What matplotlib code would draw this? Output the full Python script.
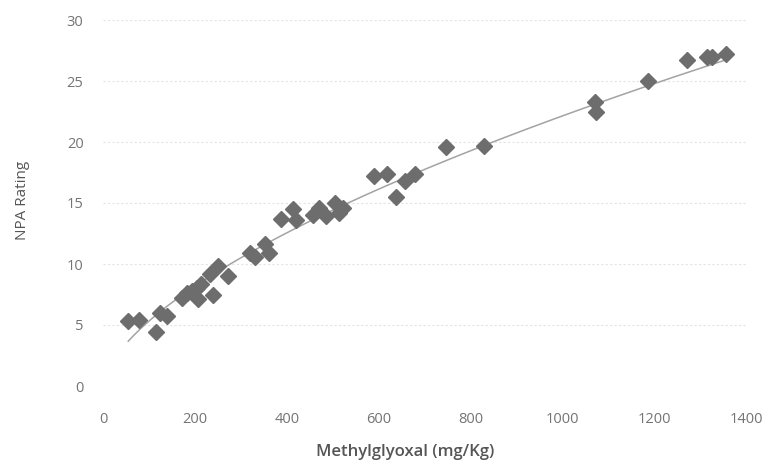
import numpy as np
import matplotlib
matplotlib.use("Agg")
import matplotlib.pyplot as plt

# Data
mgo = [55, 78, 115, 124, 140, 171, 183, 193, 205, 207, 214, 232, 239, 250, 272,
       319, 331, 352, 361, 388, 413, 420, 458, 471, 486, 506, 514, 522,
       590, 619, 637, 658, 679, 746, 829, 1072, 1073, 1187, 1272, 1314, 1326, 1357]
npa = [5.3, 5.4, 4.4, 6.0, 5.7, 7.2, 7.6, 7.8, 8.0, 7.1, 8.4, 9.2, 7.5, 9.8, 9.0,
       10.9, 10.6, 11.6, 10.9, 13.7, 14.5, 13.6, 14.0, 14.6, 13.9, 15.0, 14.2, 14.6,
       17.2, 17.4, 15.5, 16.8, 17.4, 19.6, 19.7, 23.3, 22.5, 25.0, 26.7, 27.0, 27.0, 27.2]

x_ticks = [0, 200, 400, 600, 800, 1000, 1200, 1400]
y_ticks = [0, 5, 10, 15, 20, 25, 30]

fig = plt.figure(figsize=(7.7, 4.69), dpi=100)
ax = fig.add_axes([103/770, 1-386/469, (746-103)/770, (386-20)/469])

# gridlines
for yv in y_ticks:
    ax.axhline(yv, color="#e3e3e3", lw=0.8, ls=(0, (2, 2)), zorder=0)

# power trendline (log-log least squares, as spreadsheet trendlines do)
xa = np.array(mgo, dtype=float)
ya = np.array(npa, dtype=float)
b, loga = np.polyfit(np.log(xa), np.log(ya), 1)
xs = np.linspace(xa.min(), xa.max(), 200)
ax.plot(xs, np.exp(loga) * xs**b, color="#a3a3a3", lw=1.1, zorder=2)

ax.plot(mgo, npa, ls="none", marker="D", ms=7.8, color="#6d6d6d",
        markeredgecolor="#6d6d6d", zorder=3)

ax.set_xlim(0, 1400)
ax.set_ylim(0, 30)
ax.set_xticks(x_ticks)
ax.set_yticks(y_ticks)
ax.set_xticklabels([str(v) for v in x_ticks], fontsize=10.5, color="#747474",
                   family="Open Sans")
ax.set_yticklabels([str(v) for v in y_ticks], fontsize=10.5, color="#747474",
                   family="Open Sans")
ax.tick_params(axis="x", length=0, pad=19)
ax.tick_params(axis="y", length=0, pad=14)
for s in ax.spines.values():
    s.set_visible(False)

fig.text(405/770, 1-452/469, "Methylglyoxal (mg/Kg)", ha="center", va="center",
         fontsize=12, color="#555555", family="Open Sans", fontweight="semibold")
fig.text(23/770, 1-200/469, "NPA Rating", ha="center", va="center", rotation=90,
         fontsize=11, color="#555555", family="Open Sans", fontweight="normal")

fig.savefig("out.png", dpi=100)
